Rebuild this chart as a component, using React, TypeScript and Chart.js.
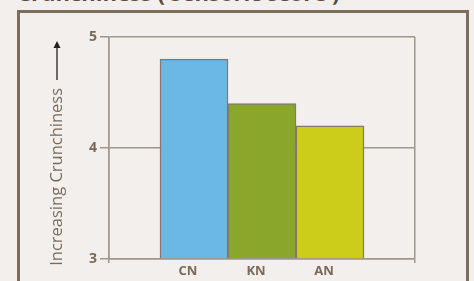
import React, { useEffect, useRef } from "react";
import { Chart, registerables } from "chart.js";

Chart.register(...registerables);

const categories = ["CN", "KN", "AN"];
const positions = [1, 2, 3];
const scores = [4.8, 4.4, 4.2];
const barColors = ["#6bb8e6", "#89a72b", "#cccd1b"];
const yTicks = [3, 4, 5];

const BG = "#f3efec";
const LINE = "#a0968c";
const TEXT = "#7a6a5c";

export default function App() {
  const ref = useRef<HTMLCanvasElement | null>(null);

  useEffect(() => {
    document.body.style.margin = "0";
    const arrowPlugin = {
      id: "arrow",
      afterDraw(chart: any) {
        const ctx = chart.ctx;
        const x = 57;
        const top = chart.chartArea.top + 4;
        const bottom = chart.chartArea.top + 43;
        ctx.save();
        ctx.strokeStyle = "#222";
        ctx.fillStyle = "#222";
        ctx.lineWidth = 1.3;
        ctx.beginPath();
        ctx.moveTo(x, bottom);
        ctx.lineTo(x, top + 6);
        ctx.stroke();
        ctx.beginPath();
        ctx.moveTo(x, top);
        ctx.lineTo(x - 3.5, top + 7);
        ctx.lineTo(x + 3.5, top + 7);
        ctx.closePath();
        ctx.fill();
        ctx.restore();
      },
    };
    const chart = new Chart(ref.current!, {
      type: "bar",
      data: {
        labels: categories,
        datasets: [
          {
            data: positions.map((p, i) => ({ x: p, y: scores[i] })),
            backgroundColor: barColors,
            borderColor: "#85796d",
            borderWidth: 1.5,
            categoryPercentage: 1,
            barPercentage: 1,
            base: 3,
          } as any,
        ],
      },
      options: {
        animation: false,
        responsive: false,
        maintainAspectRatio: false,
        plugins: { legend: { display: false }, tooltip: { enabled: false } },
        layout: { padding: { left: 0, right: 59, top: 37, bottom: 0 } },
        scales: {
          x: {
            type: "linear",
            offset: false,
            min: -0.25,
            max: 4.25,
            afterBuildTicks: (scale: any) => {
              scale.ticks = [-0.25, ...positions, 4.25].map((v) => ({ value: v }));
            },
            afterFit: (scale: any) => {
              scale.height = 22;
            },
            ticks: {
              callback: (v: any) => {
                const i = positions.indexOf(Number(v));
                return i >= 0 ? categories[i] : "";
              },
              color: TEXT,
              font: { family: "Open Sans", weight: "bold", size: 13 },
              padding: 0,
              labelOffset: -6,
              maxRotation: 0,
              autoSkip: false,
            },
            grid: {
              offset: false,
              color: (c: any) =>
                c.tick && (c.tick.value === -0.25 || c.tick.value === 4.25) ? LINE : "rgba(0,0,0,0)",
              lineWidth: 1.5,
              tickLength: 4,
              drawOnChartArea: true,
            },
            border: { display: true, color: LINE, width: 1.5 },
          },
          y: {
            min: 3,
            max: 5,
            afterBuildTicks: (scale: any) => {
              scale.ticks = yTicks.map((v) => ({ value: v }));
            },
            afterFit: (scale: any) => {
              scale.width = 109;
            },
            ticks: {
              color: TEXT,
              font: { family: "Open Sans", weight: "bold", size: 14 },
              padding: 3,
            },
            grid: { color: LINE, lineWidth: 1.5, tickLength: 9 },
            border: { display: true, color: LINE, width: 1.5 },
            title: {
              display: true,
              text: "Increasing Crunchiness" + "\u2003\u2003\u2003\u2002",
              color: TEXT,
              font: { family: "Open Sans", size: 16.5 },
              padding: { top: 47, bottom: 0 },
            },
          },
        },
      },
      plugins: [arrowPlugin],
    });
    return () => chart.destroy();
  }, []);

  return (
    <div
      style={{
        position: "relative",
        width: 474,
        height: 281,
        background: BG,
        overflow: "hidden",
      }}
    >
      <div
        style={{
          position: "absolute",
          left: 17,
          top: -21,
          fontFamily: "Open Sans",
          fontWeight: "bold",
          fontSize: 22,
          lineHeight: "26px",
          color: "#5b4b3e",
          whiteSpace: "nowrap",
        }}
      >
        Crunchiness ( sensoric score )
      </div>
      <div
        style={{
          position: "absolute",
          left: 17,
          top: 10,
          width: 446,
          height: 300,
          border: "3px solid #7e6d5d",
        }}
      />
      <canvas
        ref={ref}
        width={474}
        height={281}
        style={{ position: "absolute", left: 0, top: 0, width: 474, height: 281 }}
      />
    </div>
  );
}
